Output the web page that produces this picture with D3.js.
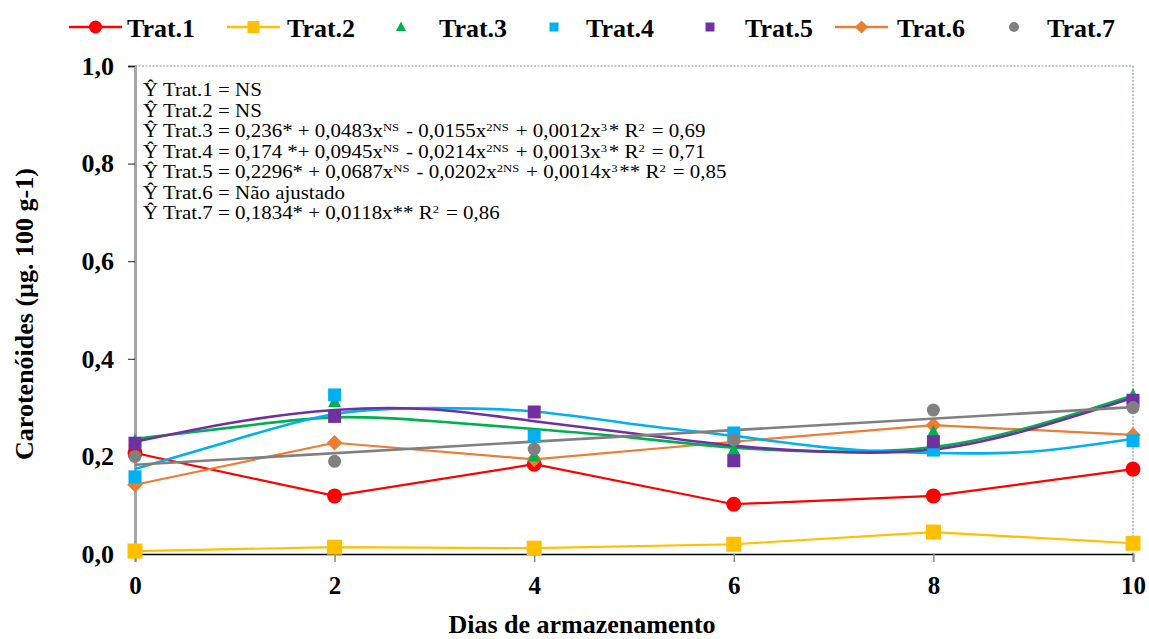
<!DOCTYPE html>
<html><head><meta charset="utf-8">
<script src="https://cdn.jsdelivr.net/npm/d3@7"></script>
<style>body{margin:0;background:#fff}svg{display:block}text{font-family:"Liberation Serif","Times New Roman",serif}</style>
</head><body><svg id="c" width="1149" height="639"></svg>
<script>
const days = [0, 2, 4, 6, 8, 10];
const seriesNames = ["Trat.1","Trat.2","Trat.3","Trat.4","Trat.5","Trat.6","Trat.7"];
const colors = ["#FF0000","#FFC000","#00B050","#00B0F0","#7030A0","#ED7D31","#808080"];
const trat1 = [0.207, 0.119, 0.184, 0.102, 0.119, 0.174];
const trat2 = [0.006, 0.014, 0.012, 0.020, 0.045, 0.022];
const trat3 = [0.232, 0.312, 0.200, 0.213, 0.250, 0.325];
const trat4 = [0.158, 0.326, 0.242, 0.248, 0.213, 0.232];
const trat5 = [0.227, 0.282, 0.291, 0.191, 0.230, 0.315];
const trat6 = [0.142, 0.228, 0.194, 0.230, 0.264, 0.244];
const trat7 = [0.200, 0.190, 0.215, 0.234, 0.295, 0.300];
// fitted curves
const trendX = [0,1,2,3,4,5,6,7,8,9,10];
const trend3 = [0.236,0.260,0.280,0.272,0.256,0.238,0.218,0.210,0.219,0.262,0.325];
const trend4 = [0.174,0.234,0.287,0.299,0.292,0.266,0.242,0.217,0.207,0.210,0.236];
const trend5 = [0.230,0.270,0.295,0.296,0.272,0.247,0.222,0.209,0.214,0.257,0.320];
const trend7X = [0, 10];
const trend7 = [0.183, 0.301];
const yTicks = [0, 0.2, 0.4, 0.6, 0.8, 1.0];
const xTicks = [0, 2, 4, 6, 8, 10];
const equations = [
  [["Ŷ Trat.1 = NS"]],
  [["Ŷ Trat.2 = NS"]],
  [["Ŷ Trat.3 = 0,236* + 0,0483x"],["NS",1],[" - 0,0155x"],["2NS",1],[" + 0,0012x"],["3",1],["* R"],["2",1],[" = 0,69"]],
  [["Ŷ Trat.4 = 0,174 *+ 0,0945x"],["NS",1],[" - 0,0214x"],["2NS",1],[" + 0,0013x"],["3",1],["* R"],["2",1],[" = 0,71"]],
  [["Ŷ Trat.5 = 0,2296* + 0,0687x"],["NS",1],[" - 0,0202x"],["2NS",1],[" + 0,0014x"],["3",1],["** R"],["2",1],[" = 0,85"]],
  [["Ŷ Trat.6 = Não ajustado"]],
  [["Ŷ Trat.7 = 0,1834* + 0,0118x** R"],["2",1],[" = 0,86"]]
];

const svg = d3.select("#c");
const x = d3.scaleLinear().domain([0,10]).range([135,1133]);
const y = d3.scaleLinear().domain([0,1]).range([554,66]);
const fmt = d => d3.format(".1f")(d).replace(".", ",");

// frame top/right dotted
svg.append("line").attr("x1",x(0)).attr("x2",x(10)).attr("y1",y(1)).attr("y2",y(1))
  .attr("stroke","#8a94a8").attr("stroke-width",1.2).attr("stroke-dasharray","2,1.5");
svg.append("line").attr("x1",x(10)).attr("x2",x(10)).attr("y1",y(1)).attr("y2",y(0))
  .attr("stroke","#a8b0c0").attr("stroke-width",1.5).attr("stroke-dasharray","2,1.5");

// y axis
const ya = svg.append("g").attr("transform",`translate(${x(0)},0)`)
  .call(d3.axisLeft(y).tickValues(yTicks).tickFormat(fmt).tickSize(7).tickPadding(14));
ya.select(".domain").attr("stroke","#a6a6a6").attr("stroke-width",3);
ya.selectAll(".tick line").attr("stroke","#222");
ya.selectAll(".tick text").attr("font-family","Liberation Serif").attr("font-size",26).attr("font-weight","bold").attr("fill","#000");

// x axis
const xa = svg.append("g").attr("transform",`translate(0,${y(0)})`)
  .call(d3.axisBottom(x).tickValues(xTicks).tickFormat(d3.format("d")).tickSize(8).tickPadding(14));
xa.select(".domain").attr("stroke","#000").attr("stroke-width",1.5);
xa.selectAll(".tick line").attr("stroke","#888").attr("stroke-width",1.5);
xa.selectAll(".tick text").attr("font-family","Liberation Serif").attr("font-size",25).attr("font-weight","bold").attr("fill","#000");

// axis titles
svg.append("text").attr("transform","translate(33,314) rotate(-90)").attr("text-anchor","middle")
  .attr("font-size",26).attr("font-weight","bold").text("Carotenóides (µg. 100 g-1)");
svg.append("text").attr("x",582).attr("y",633).attr("text-anchor","middle")
  .attr("font-size",26).attr("font-weight","bold").text("Dias de armazenamento");

// equations
const eq = svg.append("g");
equations.forEach((segs,i) => {
  const t = eq.append("text").attr("transform",`translate(143,${96 + i*20.5}) scale(1.15,1)`)
    .attr("x",0).attr("y",0).attr("font-size",18.2).attr("fill","#000");
  segs.forEach(s => {
    if (s[1]) {
      t.append("tspan").attr("font-size",11).attr("dy",-6).text(s[0]);
      t.append("tspan").attr("dy",6).text("\u200A");
    } else t.append("tspan").text(s[0]);
  });
});

const line = d3.line().x(d=>x(d[0])).y(d=>y(d[1]));
const smooth = d3.line().x(d=>x(d[0])).y(d=>y(d[1])).curve(d3.curveNatural);
const zip = (xs,ys) => xs.map((v,i)=>[v,ys[i]]);

function marker(g, type, cx, cy, color, s) {
  if (type==="circle") g.append("circle").attr("cx",cx).attr("cy",cy).attr("r",s/2).attr("fill",color);
  else if (type==="square") g.append("rect").attr("x",cx-s/2).attr("y",cy-s/2).attr("width",s).attr("height",s).attr("fill",color);
  else if (type==="triangle") g.append("path").attr("d",`M${cx},${cy-s*0.55}L${cx+s*0.5},${cy+s*0.4}L${cx-s*0.5},${cy+s*0.4}Z`).attr("fill",color);
  else if (type==="diamond") g.append("path").attr("d",`M${cx},${cy-s*0.6}L${cx+s*0.6},${cy}L${cx},${cy+s*0.6}L${cx-s*0.6},${cy}Z`).attr("fill",color);
}

const plot = svg.append("g");
// connected series
[[trat1,0,"circle",15],[trat2,1,"square",15],[trat6,5,"diamond",13]].forEach(([vals,ci,type,s])=>{
  plot.append("path").attr("d",line(zip(days,vals))).attr("fill","none").attr("stroke",colors[ci]).attr("stroke-width",2.2);
  vals.forEach((v,i)=>marker(plot,type,x(days[i]),y(v),colors[ci],s));
});
// trend curves
[[trendX,trend3,2],[trendX,trend4,3],[trendX,trend5,4],[trend7X,trend7,6]].forEach(([xs,ys,ci])=>{
  plot.append("path").attr("d",smooth(zip(xs,ys))).attr("fill","none").attr("stroke",colors[ci]).attr("stroke-width",2.6);
});
// scatter series
[[trat3,2,"triangle",13],[trat4,3,"square",13],[trat5,4,"square",13],[trat7,6,"circle",13]].forEach(([vals,ci,type,s])=>{
  vals.forEach((v,i)=>marker(plot,type,x(days[i]),y(v),colors[ci],s));
});

// legend
const legendItems = [
  {ci:0,type:"circle",line:true,lx:69,tx:127,s:13},
  {ci:1,type:"square",line:true,lx:227,tx:287,s:12},
  {ci:2,type:"triangle",line:false,lx:401,tx:439,s:10},
  {ci:3,type:"square",line:false,lx:554,tx:586,s:9},
  {ci:4,type:"square",line:false,lx:710,tx:745,s:9},
  {ci:5,type:"diamond",line:true,lx:835,tx:897,s:11},
  {ci:6,type:"circle",line:false,lx:1014,tx:1047,s:10}
];
const lg = svg.append("g");
legendItems.forEach(it=>{
  const cy = 27;
  if (it.line) {
    lg.append("line").attr("x1",it.lx).attr("x2",it.lx+53).attr("y1",cy).attr("y2",cy).attr("stroke",colors[it.ci]).attr("stroke-width",2.5);
    marker(lg,it.type,it.lx+26.5,cy,colors[it.ci],it.s);
  } else marker(lg,it.type,it.lx,cy,colors[it.ci],it.s);
  lg.append("text").attr("x",it.tx).attr("y",37).attr("font-size",26).attr("font-weight","bold").text(seriesNames[it.ci]);
});
</script></body></html>
